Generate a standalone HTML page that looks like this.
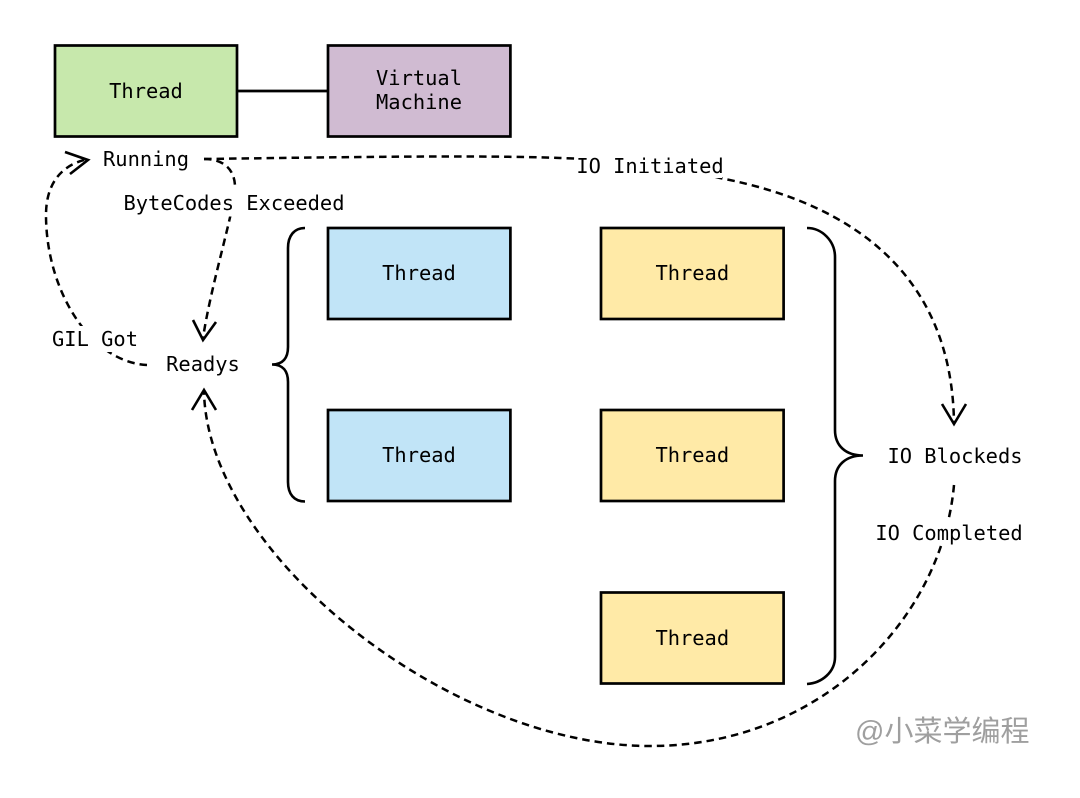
<!DOCTYPE html>
<html>
<head>
<meta charset="utf-8">
<style>
html,body{margin:0;padding:0;background:#fff}
svg{display:block}
text.t{font-family:"DejaVu Sans Mono","Liberation Mono",monospace;font-size:20.4px;fill:#000}
.d{fill:none;stroke:#000;stroke-width:2.5;stroke-dasharray:7.500 5}
.a{fill:none;stroke:#000;stroke-width:2.6}
.b{stroke:#000;stroke-width:2.7}
</style>
</head>
<body>
<svg width="1080" height="798" viewBox="0 0 1080 798" xmlns="http://www.w3.org/2000/svg">
<rect width="1080" height="798" fill="#fff"/>
<path d="M237,91H328" fill="none" stroke="#000" stroke-width="2.7"/>
<rect class="b" x="55" y="45.500" width="182" height="91" fill="#c7e8ac"/>
<rect class="b" x="328" y="45.500" width="182.400" height="91" fill="#d0bbd2"/>
<rect class="b" x="328" y="228" width="182.400" height="91" fill="#c1e4f7"/>
<rect class="b" x="328" y="410" width="182.400" height="91" fill="#c1e4f7"/>
<rect class="b" x="601" y="228" width="182.600" height="91" fill="#ffeaa7"/>
<rect class="b" x="601" y="410" width="182.600" height="91" fill="#ffeaa7"/>
<rect class="b" x="601" y="592.500" width="182.600" height="91" fill="#ffeaa7"/>

<path class="a" d="M305,228C294,228 288,236 288,248V347C288,358 283,364.500 272,364.500C283,364.500 288,371 288,382V482C288,494 294,501.500 305,501.500"/>
<path class="a" d="M807,228C822,228 835,241 835,257V430C835,446 846,455.500 863,455.500C846,455.500 835,465 835,481V657C835,672 822,683 807,684"/>

<path class="d" d="M204,159C222,159 236,168 235,190C233,215 211,285 203,338"/>
<path class="d" d="M204,159C350,157 480,155 560,158C620,160 670,166 720,178C860,205 952,280 954,423"/>
<path class="d" d="M147,365C90,362 46,290 46,215C46,185 60,165 88,159"/>
<path class="d" d="M954,485C942,620 820,746 650,746C450,746 208,555 204,392"/>

<path class="a" d="M65,152L88,160L70,174"/>
<path class="a" d="M193,320L203,340L216,322"/>
<path class="a" d="M192,410L204,390L216,410"/>
<path class="a" d="M942,404L954,424L966,404"/>

<rect x="118" y="189" width="230" height="27.500" fill="#fff"/>
<rect x="575" y="152" width="147" height="26" fill="#fff"/>
<rect x="48" y="326" width="93" height="26" fill="#fff"/>
<rect x="871" y="520.500" width="155" height="24.500" fill="#fff"/>

<text class="t" x="146" y="98" text-anchor="middle">Thread</text>
<text class="t" x="419" y="85" text-anchor="middle">Virtual</text>
<text class="t" x="419" y="109" text-anchor="middle">Machine</text>
<text class="t" x="419" y="280" text-anchor="middle">Thread</text>
<text class="t" x="419" y="462" text-anchor="middle">Thread</text>
<text class="t" x="692.300" y="280" text-anchor="middle">Thread</text>
<text class="t" x="692.300" y="462" text-anchor="middle">Thread</text>
<text class="t" x="692.300" y="645" text-anchor="middle">Thread</text>
<text class="t" x="146" y="166" text-anchor="middle">Running</text>
<text class="t" x="234" y="210" text-anchor="middle">ByteCodes Exceeded</text>
<text class="t" x="650" y="173" text-anchor="middle">IO Initiated</text>
<text class="t" x="95" y="346" text-anchor="middle">GIL Got</text>
<text class="t" x="203" y="371" text-anchor="middle">Readys</text>
<text class="t" x="955" y="463" text-anchor="middle">IO Blockeds</text>
<text class="t" x="949" y="540" text-anchor="middle">IO Completed</text>
<text x="855" y="741" font-family="'Liberation Sans','Noto Sans CJK SC',sans-serif" font-size="29" fill="#9f9f9f">@小菜学编程</text>
</svg>
</body>
</html>
